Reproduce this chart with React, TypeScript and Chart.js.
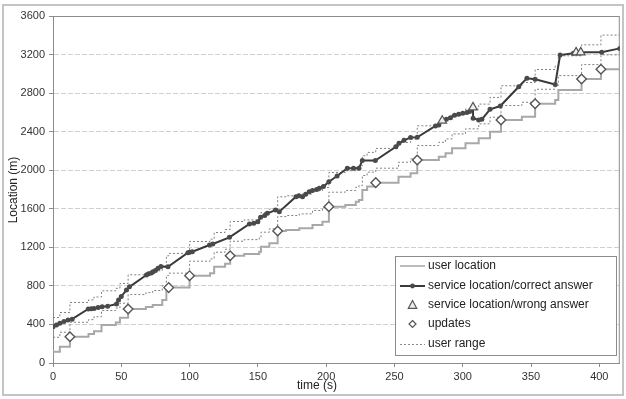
import React, { useEffect, useRef } from 'react';
import { Chart, registerables } from 'chart.js';

Chart.register(...registerables);

// ---- data (time in s, location in m) ----
const userT = [0, 5, 12.4, 26, 30, 35.5, 46, 49, 55, 68, 73, 80, 83, 84.7, 100, 115, 118, 126, 129.7, 140, 151, 152.3, 158.4, 164.5, 170.6, 180.3, 190, 197.3, 202, 214, 221.7, 224, 226.5, 230, 236.3, 253, 261.8, 266.7, 282.5, 287.4, 292.2, 302, 311.7, 320, 328, 343.3, 353, 367.7, 370, 387, 401.2, 415];
const userV = [117, 169, 273, 300, 330, 394, 420, 470, 560, 580, 602, 653, 757, 782, 906, 930, 999, 1030, 1113, 1130, 1155, 1207, 1242, 1369, 1380, 1397, 1432, 1466, 1622, 1640, 1673, 1691, 1795, 1830, 1871, 1933, 1968, 2106, 2140, 2175, 2227, 2279, 2331, 2400, 2521, 2555, 2690, 2728, 2832, 2946, 3047, 3047];

const rangeLowV = [267, 319, 423, 450, 480, 544, 570, 620, 710, 730, 752, 803, 907, 932, 1056, 1080, 1149, 1180, 1263, 1280, 1305, 1357, 1392, 1519, 1530, 1547, 1582, 1616, 1772, 1790, 1823, 1841, 1945, 1980, 2021, 2083, 2118, 2256, 2290, 2325, 2377, 2429, 2481, 2550, 2671, 2705, 2840, 2878, 2982, 3096, 3197, 3197];
const rangeHighV = [472, 524, 628, 655, 685, 749, 775, 825, 915, 935, 957, 1008, 1112, 1137, 1261, 1285, 1354, 1385, 1468, 1485, 1510, 1562, 1597, 1724, 1735, 1752, 1787, 1821, 1977, 1995, 2028, 2046, 2150, 2185, 2226, 2288, 2323, 2461, 2495, 2530, 2582, 2634, 2686, 2755, 2876, 2910, 3045, 3083, 3187, 3301, 3402, 3402];

const serviceT = [0, 2.5, 5, 8, 11, 14, 25.8, 28, 30, 33, 36, 40, 46.5, 48, 50, 53.8, 56, 68.4, 70, 72, 73.2, 75, 76.9, 79, 84.2, 98.8, 100, 102, 114.6, 117, 129.2, 143.8, 147, 150, 152, 155, 157, 163, 165.7, 177.9, 180, 182.7, 185, 187.6, 190, 193, 195, 198, 202, 208, 215.5, 220, 224, 226.5, 236, 251, 253.3, 257, 261.8, 266.7, 280, 282.5, 285, 288, 291, 294, 297, 300, 303, 305, 307.5, 307.6, 311.7, 314, 320, 327.5, 341, 347, 353, 367.7, 371.3, 381, 383, 386.4, 401.7, 415];
const serviceV = [377, 395, 412, 430, 446, 455, 560, 562, 565, 575, 584, 590, 612, 653, 690, 757, 790, 913, 925, 935, 947, 960, 982, 1000, 999, 1144, 1150, 1155, 1224, 1235, 1304, 1442, 1450, 1466, 1511, 1530, 1553, 1587, 1570, 1725, 1735, 1725, 1750, 1777, 1790, 1800, 1812, 1830, 1881, 1940, 2020, 2020, 2020, 2100, 2100, 2244, 2279, 2310, 2340, 2341, 2459, 2470, 2514, 2530, 2545, 2570, 2580, 2590, 2600, 2610, 2652, 2540, 2521, 2528, 2632, 2666, 2866, 2954, 2943, 2890, 3195, 3213, 3223, 3223, 3223, 3264];

const wrongT = [285, 307.5, 383, 386.4];
const wrongV = [2514, 2652, 3223, 3223];

const updateT = [12.4, 55, 84.7, 100, 129.7, 164.5, 202, 236.3, 266.7, 328, 353, 387, 401.2];
const updateV = [273, 560, 782, 906, 1113, 1369, 1622, 1871, 2106, 2521, 2690, 2946, 3047];

const xTickStep = 50;
const yTickStep = 400;
const legendLabels = ['user location', 'service location/correct answer', 'service location/wrong answer', 'updates', 'user range'];

const pts = (t: number[], v: number[]) => t.map((x, i) => ({ x, y: v[i] }));

const FONT = '"Liberation Sans", Arial, sans-serif';

const decorPlugin = {
  id: 'decor',
  beforeDraw(chart: any) {
    const ctx = chart.ctx;
    ctx.save();
    ctx.fillStyle = '#ffffff';
    ctx.fillRect(0, 0, chart.width, chart.height);
    ctx.strokeStyle = '#c4c4c4';
    ctx.lineWidth = 2;
    ctx.strokeRect(3, 5, 620, 390);
    ctx.restore();
  },
  beforeDatasetsDraw(chart: any) {
    const { ctx, chartArea: a } = chart;
    ctx.save();
    ctx.strokeStyle = '#8c8c8c';
    ctx.lineWidth = 1;
    ctx.strokeRect(a.left + 0.5, a.top + 0.5, a.right - a.left - 1, a.bottom - a.top);
    ctx.restore();
  },
  afterDraw(chart: any) {
    const ctx = chart.ctx;
    ctx.save();
    // axis titles
    ctx.fillStyle = '#222';
    ctx.font = `12px ${FONT}`;
    ctx.textAlign = 'center';
    ctx.textBaseline = 'middle';
    ctx.fillText('time (s)', 317, 386);
    ctx.translate(14, 190);
    ctx.rotate(-Math.PI / 2);
    ctx.fillText('Location (m)', 0, 0);
    ctx.restore();

    // legend
    ctx.save();
    const bx = 395, by = 256, bw = 221, bh = 99;
    ctx.fillStyle = '#fff';
    ctx.fillRect(bx, by, bw, bh);
    ctx.strokeStyle = '#8c8c8c';
    ctx.lineWidth = 1;
    ctx.strokeRect(bx + 0.5, by + 0.5, bw, bh);
    const rows = [266, 286, 305, 324, 344];
    const x0 = 400, x1 = 425, xc = 412.5;
    // user location
    ctx.strokeStyle = '#a6a6a6';
    ctx.lineWidth = 1.5;
    ctx.beginPath(); ctx.moveTo(x0, rows[0]); ctx.lineTo(x1, rows[0]); ctx.stroke();
    // service correct
    ctx.strokeStyle = '#3a3a3a';
    ctx.lineWidth = 2;
    ctx.beginPath(); ctx.moveTo(x0, rows[1]); ctx.lineTo(x1, rows[1]); ctx.stroke();
    ctx.fillStyle = '#4a4a4a';
    ctx.beginPath(); ctx.arc(xc, rows[1], 2.4, 0, Math.PI * 2); ctx.fill();
    // triangle
    ctx.fillStyle = '#eeeeee';
    ctx.strokeStyle = '#555';
    ctx.lineWidth = 1.2;
    ctx.beginPath();
    ctx.moveTo(xc, rows[2] - 4.5); ctx.lineTo(xc + 4.2, rows[2] + 3.3); ctx.lineTo(xc - 4.2, rows[2] + 3.3); ctx.closePath();
    ctx.fill(); ctx.stroke();
    // diamond
    ctx.fillStyle = '#fff';
    ctx.beginPath();
    ctx.moveTo(xc, rows[3] - 3.5); ctx.lineTo(xc + 3.5, rows[3]); ctx.lineTo(xc, rows[3] + 3.5); ctx.lineTo(xc - 3.5, rows[3]); ctx.closePath();
    ctx.fill(); ctx.stroke();
    // range
    ctx.strokeStyle = '#8a8a8a';
    ctx.lineWidth = 1;
    ctx.setLineDash([2, 2]);
    ctx.beginPath(); ctx.moveTo(x0, rows[4] + 0.5); ctx.lineTo(x1, rows[4] + 0.5); ctx.stroke();
    ctx.setLineDash([]);
    ctx.fillStyle = '#222';
    ctx.font = `12px ${FONT}`;
    ctx.textAlign = 'left';
    ctx.textBaseline = 'middle';
    legendLabels.forEach((l, i) => ctx.fillText(l, 428, rows[i]));
    ctx.restore();
  },
};

export default function App() {
  const ref = useRef<HTMLCanvasElement>(null);
  useEffect(() => {
    if (!ref.current) return;
    const chart = new Chart(ref.current, {
      type: 'line',
      data: {
        datasets: [
          {
            label: 'updates', data: pts(updateT, updateV), showLine: false,
            pointStyle: 'rectRot', pointRadius: 4.8, pointBackgroundColor: '#ffffff',
            pointBorderColor: '#555', pointBorderWidth: 1.4, order: 0,
          },
          {
            label: 'wrong', data: pts(wrongT, wrongV), showLine: false,
            pointStyle: 'triangle', pointRadius: 5, pointBackgroundColor: '#eeeeee',
            pointBorderColor: '#555', pointBorderWidth: 1.2, order: 1,
          },
          {
            label: 'service', data: pts(serviceT, serviceV), borderColor: '#3a3a3a', borderWidth: 2,
            pointRadius: 2.5, pointBackgroundColor: '#4a4a4a', pointBorderWidth: 0, order: 2,
          },
          {
            label: 'user', data: pts(userT, userV), stepped: true, borderColor: '#a8a8a8', borderWidth: 2,
            pointRadius: 0, order: 3,
          },
          {
            label: 'range high', data: pts(userT, rangeHighV), stepped: true, borderColor: '#808080', borderWidth: 1,
            borderDash: [2, 2], pointRadius: 0, order: 4,
          },
          {
            label: 'range low', data: pts(userT, rangeLowV), stepped: true, borderColor: '#808080', borderWidth: 1,
            borderDash: [2, 2], pointRadius: 0, order: 5,
          },
        ],
      },
      options: {
        animation: false,
        responsive: false,
        layout: { padding: { left: 8, right: 5, top: 16, bottom: 6 } },
        plugins: { legend: { display: false }, tooltip: { enabled: false } },
        scales: {
          x: {
            type: 'linear', min: 0, max: 415,
            ticks: { stepSize: xTickStep, includeBounds: false, color: '#333', font: { size: 11, family: FONT }, padding: 3, maxRotation: 0 },
            grid: { drawOnChartArea: false, drawTicks: true, tickLength: 4, color: '#8c8c8c' },
            border: { color: '#8c8c8c' },
            afterFit: (s: any) => { s.height = 30; },
          },
          y: {
            type: 'linear', min: 0, max: 3600,
            ticks: { stepSize: yTickStep, color: '#333', font: { size: 11, family: FONT }, padding: 4, callback: (v: any) => String(v) },
            grid: { color: '#d0d0d0', tickLength: 4, tickColor: '#8c8c8c', tickBorderDash: [1, 0] },
            border: { color: '#8c8c8c', dash: [5, 2] },
            afterFit: (s: any) => { s.width = 45; },
          },
        },
      },
      plugins: [decorPlugin],
    } as any);
    return () => chart.destroy();
  }, []);
  return (
    <div style={{ position: 'fixed', left: 0, top: 0, width: 626, height: 399 }}>
      <canvas ref={ref} width={626} height={399} style={{ width: 626, height: 399, display: 'block' }} />
    </div>
  );
}
